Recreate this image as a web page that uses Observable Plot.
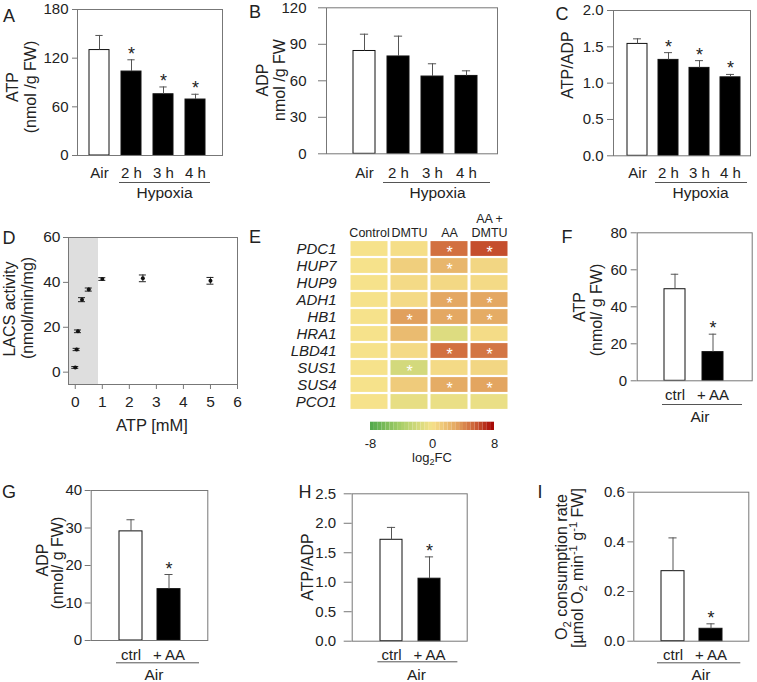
<!DOCTYPE html>
<html><head><meta charset="utf-8">
<script src="https://cdn.jsdelivr.net/npm/d3@7"></script>
<script src="https://cdn.jsdelivr.net/npm/@observablehq/plot@0.6"></script>
<style>
body{margin:0;background:#fff;}
#fig{position:relative;width:757px;height:682px;font-family:"Liberation Sans",Arial,sans-serif;color:#222;overflow:hidden;background:#fff}
#fig svg{position:absolute;overflow:visible}
.lbl{position:absolute;white-space:nowrap;transform:translate(-50%,-50%) rotate(-90deg);font-size:16px;line-height:1}
.t{position:absolute;white-space:nowrap;transform:translate(-50%,-50%);line-height:1}
.letter{position:absolute;font-size:18px;transform:translate(-50%,-50%);line-height:1}
sub,sup{font-size:70%;line-height:0}
</style></head><body><div id="fig"></div>
<script>
// ---------------- DATA ----------------
const hypoxiaCats = ["Air", "2 h", "3 h", "4 h"];
const atpA = [130, 103.5, 75.5, 69];
const atpASd = [18, 14.5, 9, 6.5];
const atpASig = [false, true, true, true];
const adpB = [84.5, 80, 63.5, 64];
const adpBSd = [13.8, 16.7, 10.5, 4.2];
const adpBSig = [false, false, false, false];
const ratioC = [1.54, 1.32, 1.21, 1.08];
const ratioCSd = [0.07, 0.10, 0.10, 0.04];
const ratioCSig = [false, true, true, true];

const atpConc = [0, 0.05, 0.1, 0.25, 0.5, 1, 2.5, 5];
const lacsActivity = [2.1, 10.1, 18.2, 32.3, 36.8, 41.5, 41.8, 40.7];
const lacsSd = [0.4, 0.5, 0.6, 0.9, 0.7, 0.6, 1.5, 1.5];
const shadeRange = [-0.25, 0.86];

const genes = ["PDC1", "HUP7", "HUP9", "ADH1", "HB1", "HRA1", "LBD41", "SUS1", "SUS4", "PCO1"];
const treatments = ["Control", "DMTU", "AA", "AA +\nDMTU"];
const fcControl = [0, 0, 0, 0, 0, 0, 0, 0, 0, 0];
const fcDMTU = [0.2, 1.0, 0.4, 0.4, 3.3, 2.0, 0.4, -1.8, 1.2, -0.8];
const fcAA = [5.0, 2.3, 0.5, 3.0, 3.0, -1.3, 5.0, 0.4, 2.8, -0.6];
const fcAADMTU = [6.0, 0.6, 0.4, 3.0, 2.8, 0.3, 4.8, 0.6, 3.1, -0.6];
const starControl = [];
const starDMTU = ["HB1", "SUS1"];
const starAA = ["PDC1", "HUP7", "ADH1", "HB1", "LBD41", "SUS4"];
const starAADMTU = ["PDC1", "ADH1", "HB1", "LBD41", "SUS4"];
const colorDomain = [-8, 8];
const colorTicks = [-8, 0, 8];

const aaCats = ["ctrl", "+ AA"];
const atpF = [49.5, 15.5];
const atpFSd = [8.1, 9.7];
const adpG = [29.1, 13.7];
const adpGSd = [3.1, 3.9];
const ratioH = [1.72, 1.06];
const ratioHSd = [0.21, 0.37];
const o2I = [0.282, 0.05];
const o2ISd = [0.134, 0.02];
const aaSig = [false, true];

// ---------------- LAYOUT HELPERS ----------------
const fig = document.getElementById("fig");
const FONT = '"Liberation Sans", Arial, sans-serif';
const INK = "#222";
const FRAME = "#777";

function place(svg, x, y) {
  svg.style.left = x + "px";
  svg.style.top = y + "px";
  fig.appendChild(svg);
}
function html(cls, x, y, content, size) {
  const d = document.createElement("div");
  d.className = cls;
  d.style.left = x + "px";
  d.style.top = y + "px";
  if (size) d.style.fontSize = size + "px";
  d.innerHTML = content;
  fig.appendChild(d);
}
function margins(box, fr) {
  return {
    width: box.w, height: box.h,
    marginLeft: fr.x0 - box.x, marginRight: box.x + box.w - fr.x1,
    marginTop: fr.y0 - box.y, marginBottom: box.y + box.h - fr.y1
  };
}

function barPanel(cfg) {
  const data = cfg.cats.map((c, i) => ({c, v: cfg.vals[i], top: cfg.vals[i] + cfg.sd[i], sig: cfg.sig[i], open: i === 0}));
  const m = margins(cfg.box, cfg.frame);
  const R = cfg.frame.x1 - cfg.frame.x0 - cfg.insL - cfg.insR;
  const bw = R / cfg.cats.length * (1 - cfg.pad);
  const capIn = Math.max(0, (bw - 8) / 2);
  const svg = Plot.plot({
    ...m,
    style: {fontFamily: FONT, fontSize: "15px", color: INK, background: "transparent"},
    x: {domain: cfg.cats, paddingInner: cfg.pad, paddingOuter: cfg.pad / 2, insetLeft: cfg.insL, insetRight: cfg.insR, label: null},
    y: {domain: cfg.ydom, label: null},
    color: {type: "identity"},
    marks: [
      Plot.barY(data, {x: "c", y: "v", fill: d => d.open ? "white" : "black", stroke: "#111", strokeWidth: 1}),
      Plot.ruleX(data, {x: "c", y1: "v", y2: "top", stroke: "#555"}),
      Plot.tickY(data, {x: "c", y: "top", stroke: "#555", insetLeft: capIn, insetRight: capIn}),
      Plot.text(data.filter(d => d.sig), {x: "c", y: "top", text: () => "*", lineAnchor: "bottom", fontSize: 18, dy: 0, fill: INK}),
      Plot.frame({stroke: FRAME}),
      Plot.axisY({ticks: cfg.yticks, tickSize: cfg.tick[0], tickPadding: cfg.tick[1], tickFormat: cfg.fmt, stroke: FRAME, label: null, fontSize: 15}),
      Plot.axisX({tickSize: 0, tickPadding: cfg.xPad, label: null, fontSize: 15}),
      Plot.ruleY([0], {x1: () => cfg.g1, x2: () => cfg.g2, dy: cfg.lineDy, insetLeft: -cfg.ext[0], insetRight: -cfg.ext[1], stroke: "#555"}),
      Plot.text([cfg.group], {x: () => cfg.gx, y: () => 0, text: d => d, dy: cfg.groupDy, dx: cfg.groupDx, fontSize: 15.5, fill: INK})
    ]
  });
  place(svg, cfg.box.x, cfg.box.y);
}

// ---------------- A ----------------
barPanel({
  cats: hypoxiaCats, vals: atpA, sd: atpASd, sig: atpASig,
  box: {x: 35, y: 0, w: 195, h: 205}, frame: {x0: 77, x1: 222, y0: 9, y1: 155},
  insL: 5.3, insR: 10.4, pad: 0.36, ydom: [0, 180], yticks: [0, 60, 120, 180], fmt: d => d,
  tick: [5, 4], xPad: 12, g1: "2 h", g2: "4 h", ext: [2, 5], lineDy: 27,
  group: "Hypoxia", gx: "3 h", groupDy: 38, groupDx: 1
});
// ---------------- B ----------------
barPanel({
  cats: hypoxiaCats, vals: adpB, sd: adpBSd, sig: adpBSig,
  box: {x: 285, y: 0, w: 220, h: 205}, frame: {x0: 326, x1: 497, y0: 7.3, y1: 153.3},
  insL: 20.5, insR: 14.5, pad: 0.36, ydom: [0, 120], yticks: [0, 30, 60, 90, 120], fmt: d => d,
  tick: [8, 12], xPad: 13.5, g1: "2 h", g2: "4 h", ext: [4, 13], lineDy: 28.7,
  group: "Hypoxia", gx: "3 h", groupDy: 39.7, groupDx: 5
});
// ---------------- C ----------------
barPanel({
  cats: hypoxiaCats, vals: ratioC, sd: ratioCSd, sig: ratioCSig,
  box: {x: 575, y: 0, w: 182, h: 205}, frame: {x0: 613, x1: 750, y0: 10, y1: 155.3},
  insL: 7.3, insR: 4.4, pad: 0.36, ydom: [0, 2], yticks: [0, 0.5, 1, 1.5, 2], fmt: d3.format(".1f"),
  tick: [6, 4], xPad: 12, g1: "2 h", g2: "4 h", ext: [3, 7], lineDy: 26.7,
  group: "Hypoxia", gx: "3 h", groupDy: 37.7, groupDx: 1
});
// ---------------- F ----------------
barPanel({
  cats: aaCats, vals: atpF, sd: atpFSd, sig: aaSig,
  box: {x: 605, y: 225, w: 152, h: 205}, frame: {x0: 636.7, x1: 751.7, y0: 232.3, y1: 380.3},
  insL: 19, insR: 19.2, pad: 0.44, ydom: [0, 80], yticks: [0, 20, 40, 60, 80], fmt: d => d,
  tick: [6, 4], xPad: 9, g1: "ctrl", g2: "+ AA", ext: [2, 19], lineDy: 23.7,
  group: "Air", gx: "+ AA", groupDy: 36.4, groupDx: -13
});
// ---------------- G ----------------
barPanel({
  cats: aaCats, vals: adpG, sd: adpGSd, sig: aaSig,
  box: {x: 55, y: 470, w: 160, h: 212}, frame: {x0: 90.7, x1: 207.3, y0: 490, y1: 640},
  insL: 20.5, insR: 19.7, pad: 0.4, ydom: [0, 40], yticks: [0, 10, 20, 30, 40], fmt: d => d,
  tick: [6, 3], xPad: 8.5, g1: "ctrl", g2: "+ AA", ext: [3, 19], lineDy: 22.3,
  group: "Air", gx: "+ AA", groupDy: 35, groupDx: -15
});
// ---------------- H ----------------
barPanel({
  cats: aaCats, vals: ratioH, sd: ratioHSd, sig: aaSig,
  box: {x: 315, y: 470, w: 160, h: 212}, frame: {x0: 351.7, x1: 466.7, y0: 493.3, y1: 640.7},
  insL: 19.4, insR: 19, pad: 0.43, ydom: [0, 2.5], yticks: [0, 0.5, 1, 1.5, 2, 2.5], fmt: d3.format(".1f"),
  tick: [8, 8], xPad: 8, g1: "ctrl", g2: "+ AA", ext: [2.6, 17.4], lineDy: 20.6,
  group: "Air", gx: "+ AA", groupDy: 34.3, groupDx: -13
});
// ---------------- I ----------------
barPanel({
  cats: aaCats, vals: o2I, sd: o2ISd, sig: aaSig,
  box: {x: 595, y: 470, w: 162, h: 212}, frame: {x0: 633.3, x1: 748.3, y0: 491.7, y1: 640.7},
  insL: 19.6, insR: 19.2, pad: 0.4, ydom: [0, 0.6], yticks: [0, 0.2, 0.4, 0.6], fmt: d3.format(".1f"),
  tick: [6, 3], xPad: 8, g1: "ctrl", g2: "+ AA", ext: [4, 18.3], lineDy: 21.6,
  group: "Air", gx: "+ AA", groupDy: 34.3, groupDx: -10
});

// ---------------- D ----------------
{
  const pts = atpConc.map((x, i) => ({x, y: lacsActivity[i], lo: lacsActivity[i] - lacsSd[i], hi: lacsActivity[i] + lacsSd[i]}));
  const box = {x: 35, y: 225, w: 210, h: 215}, fr = {x0: 68, x1: 237, y0: 237, y1: 384};
  const svg = Plot.plot({
    ...margins(box, fr),
    style: {fontFamily: FONT, fontSize: "15.5px", color: INK, background: "transparent"},
    x: {domain: [-0.25, 6], label: null},
    y: {domain: [-5.5, 60], label: null},
    marks: [
      Plot.rect([shadeRange], {x1: d => d[0], x2: d => d[1], fill: "#dedede"}),
      Plot.ruleX(pts, {x: "x", y1: "lo", y2: "hi", stroke: "#222"}),
      Plot.ruleY(pts, {y: "hi", x1: "x", x2: "x", insetLeft: -3.5, insetRight: -3.5, stroke: "#222"}),
      Plot.ruleY(pts, {y: "lo", x1: "x", x2: "x", insetLeft: -3.5, insetRight: -3.5, stroke: "#222"}),
      Plot.dot(pts, {x: "x", y: "y", r: 2, fill: "#111"}),
      Plot.frame({stroke: FRAME}),
      Plot.axisY({ticks: [0, 20, 40, 60], tickSize: 5, tickPadding: 3, stroke: FRAME, label: null}),
      Plot.axisX({ticks: [0, 1, 2, 3, 4, 5, 6], tickFormat: d => String(d), tickSize: 5, tickPadding: 6, stroke: FRAME, label: null})
    ]
  });
  place(svg, box.x, box.y);
}

// ---------------- E heatmap ----------------
{
  const fcs = [fcControl, fcDMTU, fcAA, fcAADMTU];
  const stars = [starControl, starDMTU, starAA, starAADMTU];
  const cells = genes.flatMap((g, i) => treatments.map((t, j) => ({gene: g, trt: t, v: fcs[j][i], star: stars[j].includes(g)})));
  const colorOpts = {type: "linear", domain: [-8, -4, 0, 3, 5.5, 8],
    range: ["#4ea84a", "#a9cf69", "#f6e28b", "#e4a862", "#cd6238", "#a30000"], interpolate: "rgb"};
  const box = {x: 250, y: 200, w: 262, h: 215}, fr = {x0: 348, x1: 510, y0: 237, y1: 413};
  const svg = Plot.plot({
    ...margins(box, fr),
    style: {fontFamily: FONT, fontSize: "12.5px", color: INK, background: "transparent"},
    x: {domain: treatments, padding: 0, axis: null},
    y: {domain: genes, padding: 0, axis: null},
    color: colorOpts,
    marks: [
      Plot.cell(cells, {x: "trt", y: "gene", fill: "v", insetLeft: 1.5, insetRight: 1.5, insetTop: 1.1, insetBottom: 1.1}),
      Plot.text(cells.filter(d => d.star), {x: "trt", y: "gene", text: () => "*", fill: "white", fontSize: 16, dy: 4}),
      Plot.text(treatments, {x: d => d, frameAnchor: "top", lineAnchor: "bottom", lineHeight: 1.05, dy: -1, fontSize: 12.5, fill: INK}),
      Plot.text(genes, {y: d => d, frameAnchor: "left", textAnchor: "end", dx: -12, fontSize: 15, fontStyle: "italic", fill: INK})
    ]
  });
  place(svg, box.x, box.y);

  const stops = d3.range(colorDomain[0], colorDomain[1], 0.5);
  const cbox = {x: 340, y: 415, w: 170, h: 36}, cfr = {x0: 370, x1: 494, y0: 421.7, y1: 430};
  const bar = Plot.plot({
    ...margins(cbox, cfr),
    style: {fontFamily: FONT, fontSize: "13px", color: INK, background: "transparent"},
    x: {domain: colorDomain, label: null},
    color: colorOpts,
    marks: [
      Plot.rect(stops, {x1: d => d, x2: d => d + 0.5, fill: d => d + 0.25}),
      Plot.axisX({ticks: colorTicks, tickSize: 0, tickPadding: 8, tickFormat: d => String(d), label: null})
    ]
  });
  place(bar, cbox.x, cbox.y);
  html("t", 432, 457, "log<sub>2</sub>FC", 13);
}

// ---------------- axis titles & letters ----------------
html("lbl", 13, 87, "ATP");
html("lbl", 31, 87, "(nmol /g FW)");
html("lbl", 262.5, 80, "ADP");
html("lbl", 279.5, 80, "nmol /g FW");
html("lbl", 568, 65, "ATP/ADP");
html("lbl", 10, 309, "LACS activity");
html("lbl", 28, 308, "(nmol/min/mg)");
html("t", 152, 425, "ATP [mM]", 16.5);
html("lbl", 580, 307, "ATP");
html("lbl", 597, 310, "(nmol/ g FW)");
html("lbl", 43, 560, "ADP");
html("lbl", 58, 563, "(nmol/ g FW)");
html("lbl", 308, 567, "ATP/ADP");
html("lbl", 561.5, 567, "O<sub>2</sub> consumption rate");
html("lbl", 578, 568, "[µmol O<sub>2</sub> min<sup>-1</sup> g<sup>-1</sup> FW]");

html("letter", 9, 16, "A");
html("letter", 255, 12, "B");
html("letter", 562, 14, "C");
html("letter", 9, 238, "D");
html("letter", 255, 237, "E");
html("letter", 567, 237, "F");
html("letter", 9, 492, "G");
html("letter", 305, 492, "H");
html("letter", 540, 492, "I");
</script></body></html>
